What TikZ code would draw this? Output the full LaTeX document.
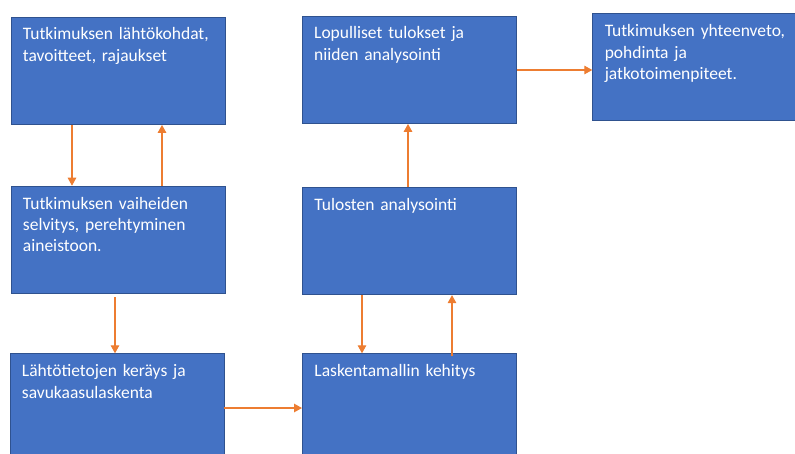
\documentclass[tikz,border=0pt]{standalone}
\usepackage{fontspec}
\setmainfont{Carlito}
\usetikzlibrary{arrows.meta,calc}
\definecolor{boxblue}{HTML}{4472C4}
\definecolor{boxedge}{HTML}{2F528F}
\definecolor{arrorange}{HTML}{ED7D31}
\begin{document}
\begin{tikzpicture}[x=1pt,y=-1pt,
  box/.style={draw=boxedge, line width=0.9pt, fill=boxblue, anchor=north west,
    inner xsep=12pt, inner ysep=0pt, text width=190pt, align=left, text=white,
    font={\fontsize{17.5pt}{21.3pt}\selectfont}, text height=23pt},
  arr/.style={draw=arrorange, line width=1.3pt, -{Triangle[length=8pt,width=8.5pt]}}]
\useasboundingbox (0,0) rectangle (795,453);
\node[box, text depth=84.5pt] (b1) at (10.5,16.5) {Tutkimuksen lähtökohdat,\\ tavoitteet, rajaukset};
\node[box, text depth=84.5pt] (b2) at (10.5,185.7) {Tutkimuksen vaiheiden\\ selvitys, perehtyminen\\ aineistoon.};
\node[box, text depth=85pt] (b3) at (9.5,353.3) {Lähtötietojen keräys ja\\ savukaasulaskenta};
\node[box, text depth=84.5pt] (b4) at (301.7,15.5) {Lopulliset tulokset ja\\ niiden analysointi};
\node[box, text depth=84.5pt] (b5) at (302,186.7) {Tulosten analysointi};
\node[box, text depth=85pt] (b6) at (302,353.3) {Laskentamallin kehitys};
\node[box, text depth=84pt] (b7) at (592.3,13.3) {Tutkimuksen yhteenveto,\\ pohdinta ja\\ jatkotoimenpiteet.};
\draw[arr] ([xshift=61.5pt]b1.south west) -- ([xshift=61.5pt]b1.south west |- b2.north);
\draw[arr] ([xshift=151.5pt]b2.north west) -- ([xshift=151.5pt]b2.north west |- b1.south);
\draw[arr] ([xshift=104.5pt,yshift=-3pt]b2.south west) -- ([xshift=104.5pt]b2.south west |- b3.north);
\draw[arr] ([yshift=-54.7pt]b3.north east) -- ([yshift=-54.7pt]b3.north east -| b6.west);
\draw[arr] ([xshift=60pt]b5.south west) -- ([xshift=60pt]b5.south west |- b6.north);
\draw[arr] ([xshift=150pt,yshift=-3pt]b6.north west) -- ([xshift=150pt]b6.north west |- b5.south);
\draw[arr] ([xshift=106pt]b5.north west) -- ([xshift=106pt]b5.north west |- b4.south);
\draw[arr] ([yshift=-54.5pt]b4.north east) -- ([yshift=-54.5pt]b4.north east -| b7.west);
\end{tikzpicture}
\end{document}
